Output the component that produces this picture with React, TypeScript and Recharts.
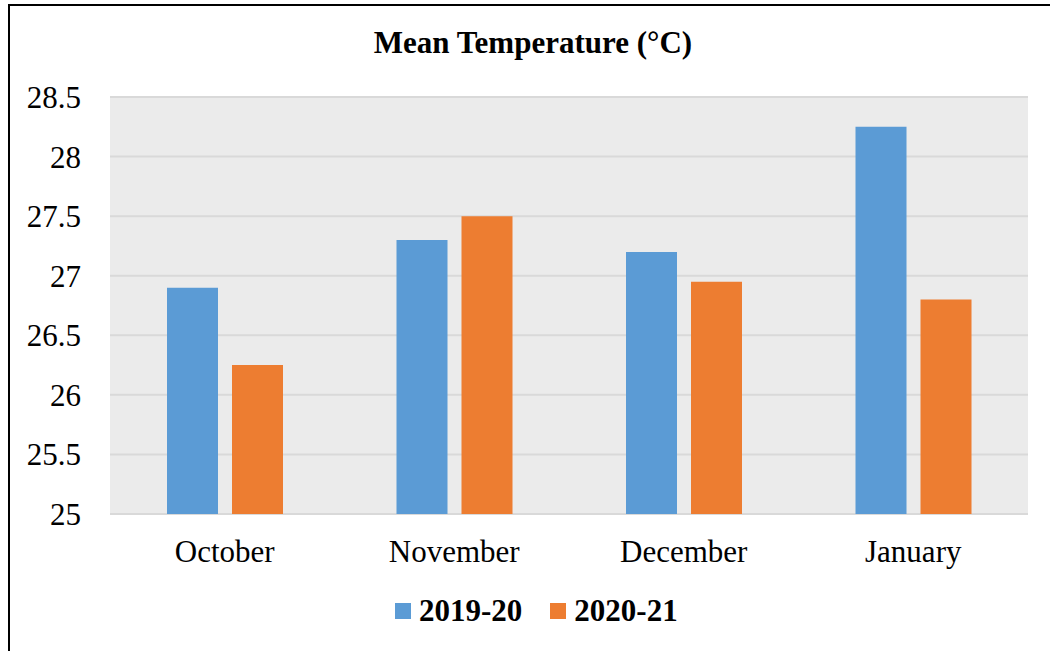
import React from 'react';
import { BarChart, Bar, XAxis, YAxis, CartesianGrid } from 'recharts';

const months = ['October', 'November', 'December', 'January'];
const temps2019 = [26.9, 27.3, 27.2, 28.25];
const temps2020 = [26.25, 27.5, 26.95, 26.8];
const yTicks = [25, 25.5, 26, 26.5, 27, 27.5, 28, 28.5];

const BLUE = '#5B9BD5';
const ORANGE = '#ED7D31';
const FONT = '"Liberation Serif", "Times New Roman", serif';

const data = months.map((m, i) => ({
  month: m,
  y2019: temps2019[i],
  y2020: temps2020[i],
}));

const legendItems = [
  { name: '2019-20', color: BLUE },
  { name: '2020-21', color: ORANGE },
];

const App: React.FC = () => {
  return (
    <div
      style={{
        position: 'absolute',
        left: 0,
        top: 0,
        width: 1050,
        height: 651,
        overflow: 'hidden',
        background: '#fff',
        fontFamily: FONT,
      }}
    >
      {/* frame around the chart, cut off on the right and bottom */}
      <div
        style={{
          position: 'absolute',
          left: 8,
          top: 4,
          width: 1100,
          height: 700,
          borderLeft: '2px solid #000',
          borderTop: '2px solid #000',
        }}
      />

      <div
        style={{
          position: 'absolute',
          left: 0,
          width: 1066,
          top: 25,
          textAlign: 'center',
          fontSize: 31,
          fontWeight: 'bold',
          lineHeight: '36px',
          color: '#000',
        }}
      >
        Mean Temperature (°C)
      </div>

      <div style={{ position: 'absolute', left: 0, top: 0 }}>
        <BarChart
          width={1050}
          height={651}
          data={data}
          margin={{ top: 97, right: 22, bottom: 97, left: 10 }}
          barGap={14}
          barCategoryGap={56}
        >
          <CartesianGrid
            vertical={false}
            stroke="#D9D9D9"
            strokeWidth={2}
            fill="#EBEBEB"
            fillOpacity={1}
          />
          <XAxis
            dataKey="month"
            axisLine={false}
            tickLine={false}
            tickSize={0}
            tickMargin={26}
            height={40}
            tick={{ fill: '#000', fontSize: 31, fontFamily: FONT }}
          />
          <YAxis
            domain={[25, 28.5]}
            ticks={yTicks}
            axisLine={false}
            tickLine={false}
            tickSize={0}
            tickMargin={29}
            width={100}
            tick={{ fill: '#000', fontSize: 31, fontFamily: FONT }}
          />
          <Bar dataKey="y2019" fill={BLUE} barSize={51} isAnimationActive={false} />
          <Bar dataKey="y2020" fill={ORANGE} barSize={51} isAnimationActive={false} />
        </BarChart>
      </div>

      <div
        style={{
          position: 'absolute',
          left: 395,
          top: 594,
          display: 'flex',
          alignItems: 'center',
          fontSize: 31,
          fontWeight: 'bold',
          lineHeight: '34px',
          color: '#000',
        }}
      >
        {legendItems.map((item, i) => (
          <div
            key={item.name}
            style={{ display: 'flex', alignItems: 'center', marginRight: i === 0 ? 28 : 0 }}
          >
            <div style={{ width: 16, height: 16, background: item.color, marginRight: 8 }} />
            <span>{item.name}</span>
          </div>
        ))}
      </div>
    </div>
  );
};

export default App;
